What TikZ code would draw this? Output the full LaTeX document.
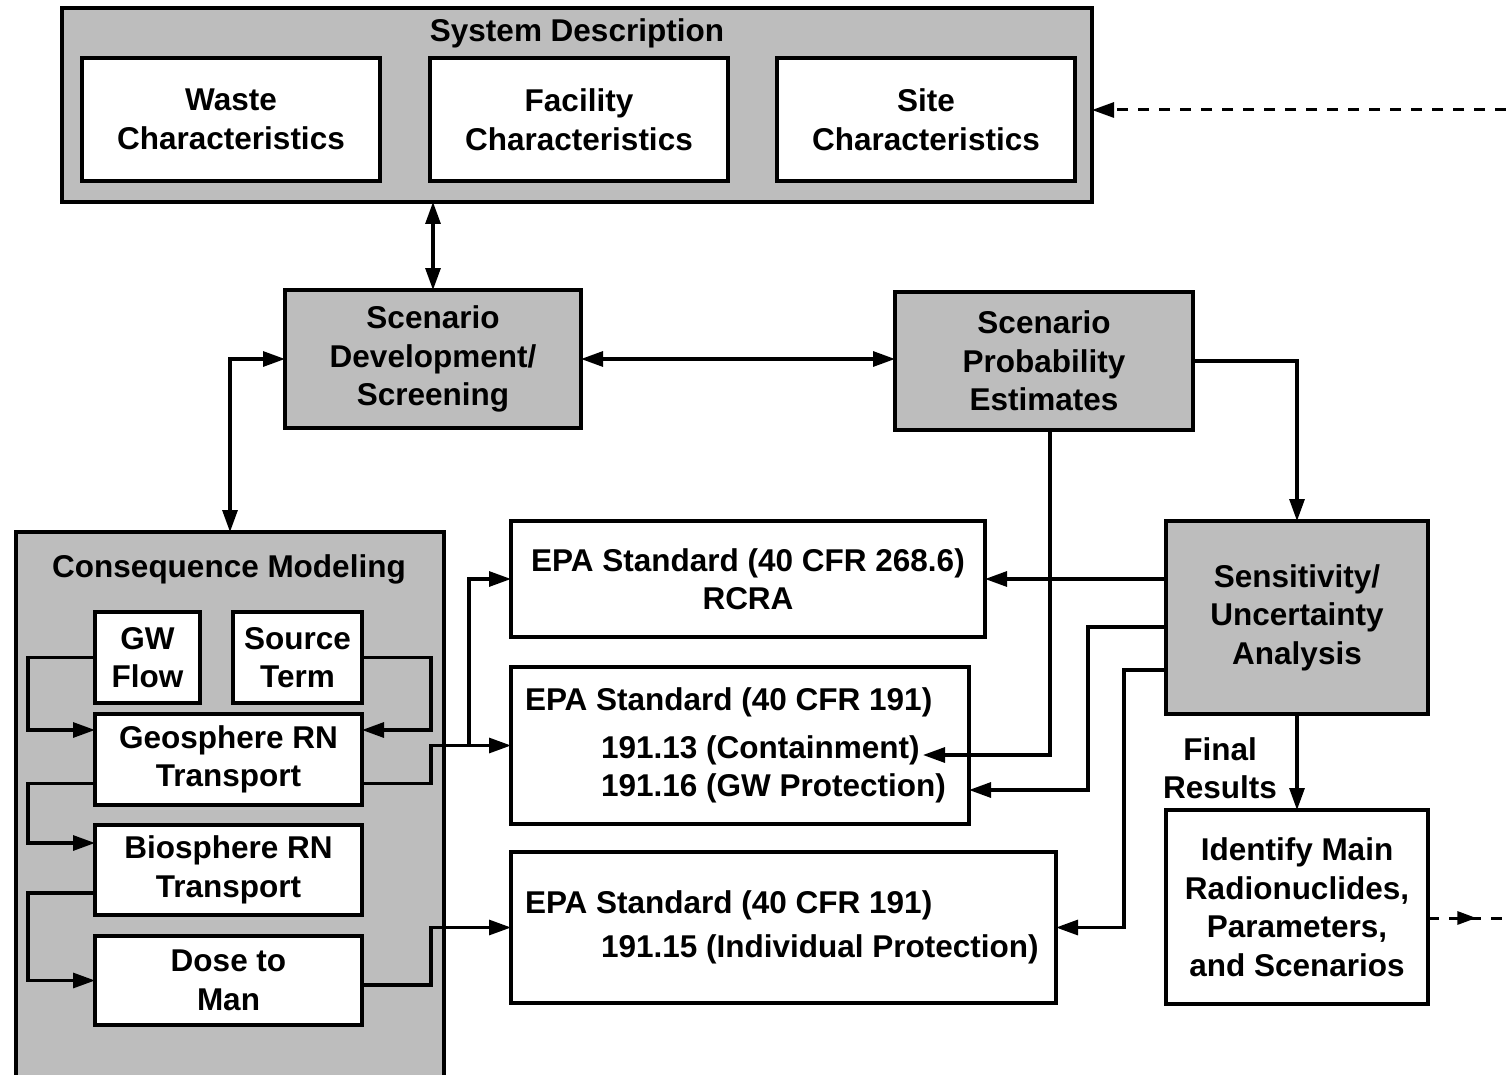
\documentclass[tikz,border=0pt]{standalone}
\usepackage{fontspec}
\setmainfont{Liberation Sans}
\usetikzlibrary{arrows.meta,calc,decorations.markings}
\begin{document}
\begin{tikzpicture}[x=1pt,y=-1pt,
  every node/.style={font=\fontsize{31.5}{38.5}\selectfont\bfseries, align=center,
                     inner sep=0pt, outer sep=0pt},
  shaded/.style={draw, line width=3.4pt, fill=black!26},
  plain/.style={draw, line width=3.4pt, fill=white},
  wire/.style={line width=3.1pt},
  conn/.style={wire, -{Triangle[length=22pt,width=15pt]}},
  both/.style={wire, {Triangle[length=22pt,width=15pt]}-{Triangle[length=22pt,width=15pt]}},
  feedback/.style={line width=3pt, dash pattern=on 11pt off 10pt},
  midtip/.style={postaction={decorate, decoration={markings,
      mark=at position #1 with {\arrow{Triangle[length=19pt,width=13pt]}}}}}
]
\useasboundingbox (0,0) rectangle (1506,1075);
\fill[white] (0,0) rectangle (1506,1075);

% ---------- system description ----------
\node[shaded, minimum width=1030pt, minimum height=194pt] (sys) at (577,105) {};
\node (systitle) at (577,33) {System Description};
\node[plain, minimum width=298pt, minimum height=123pt] (waste) at (231,119.5) {Waste\\Characteristics};
\node[plain, minimum width=298pt, minimum height=123pt] (facility) at (579,119.5) {Facility\\Characteristics};
\node[plain, minimum width=298pt, minimum height=123pt] (site) at (926,119.5) {Site\\Characteristics};

% ---------- scenario boxes ----------
\node[shaded, minimum width=296pt, minimum height=138pt] (dev) at (433,359) {Scenario\\Development/\\Screening};
\node[shaded, minimum width=298pt, minimum height=138pt] (prob) at (1044,361) {Scenario\\Probability\\Estimates};

% ---------- consequence modeling ----------
\node[shaded, minimum width=428pt, minimum height=568pt] (cons) at (230,816) {};
\node (constitle) at (229,569) {Consequence Modeling};
\node[plain, minimum width=105pt, minimum height=91pt] (gw) at (147.5,657.5) {GW\\Flow};
\node[plain, minimum width=129pt, minimum height=91pt] (src) at (297.5,657.5) {Source\\Term};
\node[plain, minimum width=267pt, minimum height=91pt] (geo) at (228.5,759.5) {Geosphere RN\\Transport};
\node[plain, minimum width=267pt, minimum height=90pt] (bio) at (228.5,870) {Biosphere RN\\Transport};
\node[plain, minimum width=267pt, minimum height=89pt] (dose) at (228.5,980.5) {Dose to\\Man};

% ---------- standards ----------
\node[plain, minimum width=474pt, minimum height=116pt] (rcra) at (748,579) {EPA Standard (40 CFR 268.6)\\RCRA};
\node[plain, align=flush left, text width=430pt, inner xsep=14pt, minimum height=157pt] (epa1) at (740,745.5)
  {\mbox{EPA Standard (40 CFR 191)}\\[9pt]
   \mbox{\hspace*{76pt}191.13 (Containment)}\\
   \mbox{\hspace*{76pt}191.16 (GW Protection)}};
\node[plain, align=flush left, text width=517pt, inner xsep=14pt, minimum height=151pt] (epa2) at (783.5,927.5)
  {\mbox{EPA Standard (40 CFR 191)}\\[5pt]
   \mbox{\hspace*{76pt}191.15 (Individual Protection)}};

% ---------- analysis ----------
\node[shaded, minimum width=262pt, minimum height=193pt] (sens) at (1297,617.5) {Sensitivity/\\Uncertainty\\Analysis};
\node[plain, minimum width=262pt, minimum height=194pt] (ident) at (1297,907) {Identify Main\\Radionuclides,\\Parameters,\\and Scenarios};
\node (final) at (1220,768) {Final\\Results};

% ---------- connectors ----------
\draw[both] (dev.north) -- (dev.north |- sys.south);
\draw[both] (dev.east) -- (dev.east -| prob.west);
\draw[both] (dev.west) -| (cons.north);
\draw[conn] (prob.east) -| (sens.north);
\coordinate (contend) at (923,755);
\draw[conn] ($(prob.south)+(6,0)$) |- (contend);
\draw[conn] (sens.west |- rcra.east) -- (rcra.east);
\draw[conn] ($(sens.west)+(0,9.5)$) -- ++(-78,0) |- ($(epa1.east)+(0,44.5)$);
\draw[conn] ($(sens.west)+(0,52.5)$) -- ++(-42,0) |- (epa2.east);
\draw[conn] (sens.south) -- (ident.north);

% inside consequence modeling
\draw[conn] (gw.west) -- ++(-67,0) |- ($(geo.west)+(0,-29.5)$);
\draw[conn] (src.east) -- ++(69,0) |- ($(geo.east)+(0,-29.5)$);
\draw[conn] ($(geo.west)+(0,24)$) -- ++(-67,0) |- ($(bio.west)+(0,-27)$);
\draw[conn] ($(bio.west)+(0,23)$) -- ++(-67,0) |- (dose.west);

% to the standards
\draw[conn] ($(geo.east)+(0,24)$) -- ++(69,0) |- (epa1.west);
\draw[conn] ($(epa1.west)+(-42,0)$) |- (rcra.west);
\draw[conn] ($(dose.east)+(0,4.5)$) -- ++(69,0) |- (epa2.west);

% feedback loop
\coordinate (backin) at (1506,110);
\coordinate (backout) at (1506,918);
\draw[feedback, -{Triangle[length=22pt,width=15pt]}] (backin) -- (sys.east |- backin);
\draw[feedback, midtip=0.62] (ident.east |- backout) -- (backout);
\end{tikzpicture}
\end{document}
